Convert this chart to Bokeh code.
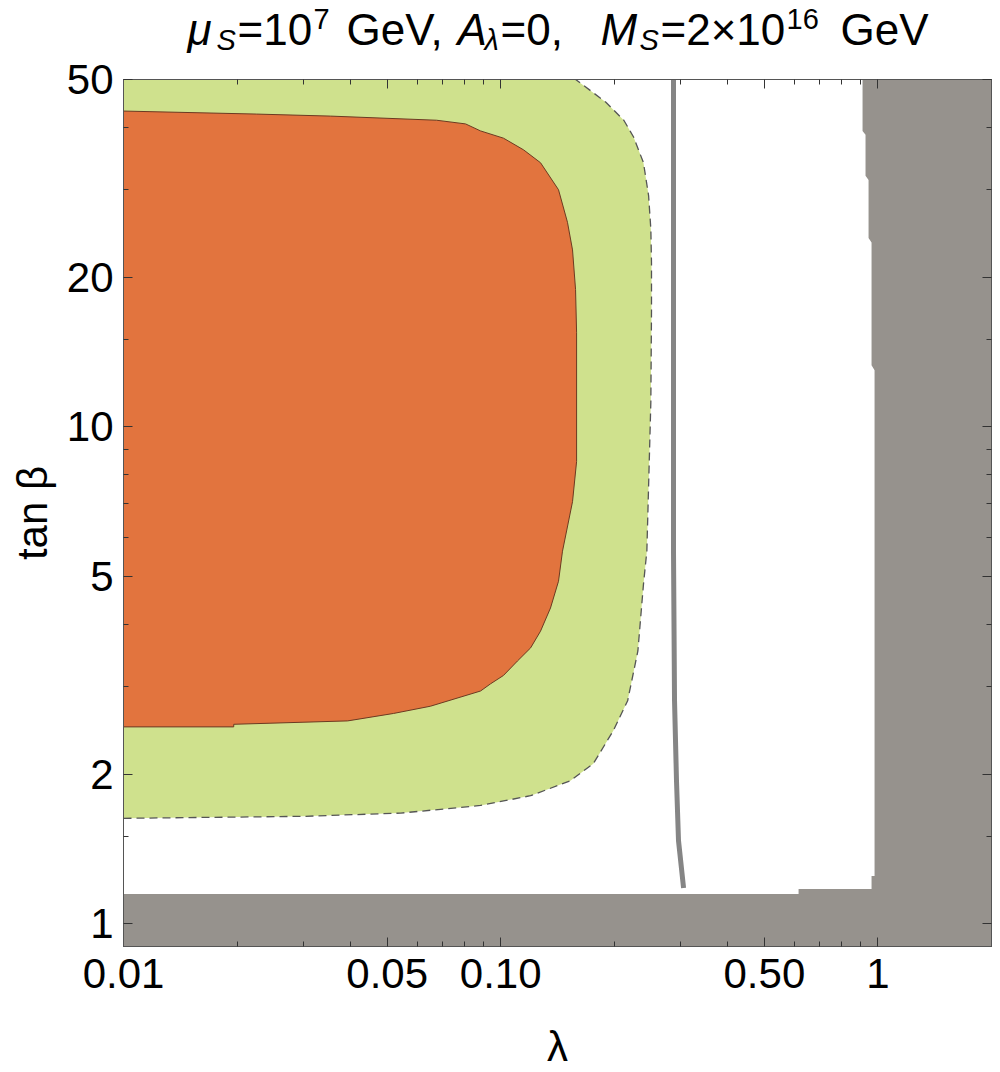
from bokeh.plotting import figure
from bokeh.layouts import column
from bokeh.models import (LogAxis, FixedTicker, CustomJSTickFormatter, Range1d,
                          ColumnDataSource)
from bokeh.embed import file_html
from bokeh.resources import INLINE

# ---------------- data ----------------
x_range_vals = (0.01, 2.0)
y_range_vals = (0.9, 50.0)

x_major = [0.01, 0.05, 0.1, 0.5, 1.0]
x_labels = ["0.01", "0.05", "0.10", "0.50", "1"]
x_minor = [0.02, 0.03, 0.04, 0.06, 0.07, 0.08, 0.09,
           0.2, 0.3, 0.4, 0.6, 0.7, 0.8, 0.9, 2.0]

y_major = [1, 2, 5, 10, 20, 50]
y_labels = ["1", "2", "5", "10", "20", "50"]
y_minor = [1.5, 3, 4, 6, 7, 8, 9, 15, 30, 40]

# green (dashed) allowed region boundary
green_lam = [0.010, 0.030, 0.0543, 0.0884, 0.120, 0.153, 0.176, 0.199, 0.217,
             0.231, 0.239, 0.244, 0.250, 0.251, 0.251, 0.250, 0.2466, 0.239,
             0.225, 0.212, 0.190, 0.158]
green_tanb = [1.63, 1.645, 1.67, 1.73, 1.81, 1.94, 2.10, 2.45, 2.81,
              3.54, 4.82, 5.62, 11.2, 17.0, 21.4, 25.0, 29.2, 34.0,
              38.3, 41.4, 45.0, 50.0]

# orange region boundary
orange_lam = [0.010, 0.0225, 0.0354, 0.0676, 0.0807, 0.0884, 0.1017, 0.1149,
              0.1275, 0.1423, 0.1503, 0.1550, 0.1579, 0.1589, 0.1589, 0.1550,
              0.1458, 0.1423, 0.1355, 0.1275, 0.1200, 0.1108, 0.1017, 0.0940,
              0.0884, 0.0651, 0.0520, 0.0393, 0.0196, 0.0196, 0.010]
orange_tanb = [43.2, 42.6, 42.2, 41.4, 40.7, 39.4, 38.1, 36.1,
               34.0, 30.0, 25.8, 22.7, 18.9, 15.5, 8.51, 7.07,
               5.62, 4.89, 4.32, 3.88, 3.59, 3.38, 3.16, 3.04,
               2.94, 2.74, 2.65, 2.56, 2.52, 2.49, 2.49]

# grey contour line
curve_lam = [0.2871, 0.2871, 0.2889, 0.2924, 0.2960, 0.3053]
curve_tanb = [50.0, 5.62, 2.81, 1.94, 1.47, 1.18]

# grey excluded region (right band + bottom band)
excl_lam = [0.9103, 0.9103, 0.927, 0.927, 0.9443, 0.9443, 0.9617, 0.9617,
            0.9795, 0.9795, 0.9617, 0.9617, 0.616, 0.616, 0.010, 0.010,
            2.0, 2.0]
excl_tanb = [50.0, 39.4, 38.7, 32.0, 31.4, 24.0, 23.5, 13.3,
             13.0, 1.248, 1.248, 1.175, 1.175, 1.148, 1.148, 0.9,
             0.9, 50.0]

# title pieces
title_pieces = ["μ", "S", "=10", "7", "GeV,", "A", "λ", "=0,",
                "M", "S", "=2×10", "16", "GeV"]
x_title = "λ"
y_title = "tan β"

# ---------------- styles ----------------
FONT = "Liberation Sans"
ORANGE = "#e2743e"
GREEN = "#cfe18d"
GREY_FILL = "#96928d"
GREY_LINE = "#858585"
FRAME = "#555555"

LEFT, RIGHT = 123, 9
TITLE_H = 56
FRAME_TOP = 79
FRAME_W, FRAME_H = 868, 867
BOTTOM_B = 64
FOOT_H = 60
MID = 0.33  # baseline sits about this many ems below the text middle


def strip(height):
    # a text-only strip whose frame lines up with the main frame;
    # its coordinates are page pixels (y measured downwards)
    s = figure(title=None, frame_width=FRAME_W, frame_height=height,
               x_range=Range1d(LEFT, LEFT + FRAME_W),
               y_range=Range1d(height, 0),
               output_backend="svg", toolbar_location=None,
               x_axis_location=None, y_axis_location=None,
               min_border_left=LEFT, min_border_right=RIGHT,
               min_border_top=0, min_border_bottom=0)
    s.grid.visible = False
    s.outline_line_color = None
    return s


# ---------------- title strip ----------------
pt = strip(TITLE_H)
BIG, SMALL = 44, 29
piece_x = [187, 216, 237, 313, 346, 457, 484, 500, 600, 639, 660, 786, 840]
piece_base = [44, 49, 44, 28, 44, 44, 49, 44, 44, 49, 44, 28, 44]
piece_big = [True, False, True, False, True, True, False, True, True, False,
             True, False, True]
piece_italic = [True, True, False, False, False, True, True, False, True,
                True, False, False, False]
for sel_big in (True, False):
    for sel_it in (True, False):
        idx = [i for i in range(len(title_pieces))
               if piece_big[i] == sel_big and piece_italic[i] == sel_it]
        if not idx:
            continue
        size = BIG if sel_big else SMALL
        src = ColumnDataSource(dict(x=[piece_x[i] for i in idx],
                                    y=[piece_base[i] - MID * size for i in idx],
                                    t=[title_pieces[i] for i in idx]))
        pt.text(x="x", y="y", text="t", source=src,
                text_font={"value": FONT},
                text_font_size={"value": f"{size}px"},
                text_font_style="italic" if sel_it else "normal",
                text_color="black", text_align="left",
                text_baseline="middle")

# ---------------- main plot ----------------
p = figure(title=None, x_axis_type="log", y_axis_type="log",
           x_range=x_range_vals, y_range=y_range_vals,
           frame_width=FRAME_W, frame_height=FRAME_H,
           min_border_left=LEFT, min_border_top=FRAME_TOP - TITLE_H,
           min_border_right=RIGHT, min_border_bottom=BOTTOM_B,
           output_backend="svg", toolbar_location=None,
           background_fill_color="white", border_fill_color="white")
p.grid.visible = False
p.outline_line_color = FRAME
p.outline_line_width = 1

p.patch(green_lam + [0.010], green_tanb + [50.0],
        fill_color=GREEN, line_color=None)
p.patch(orange_lam, orange_tanb, fill_color=ORANGE, line_color=None)
p.line(orange_lam, orange_tanb, line_color="#6b3a22", line_width=1)
p.line(green_lam, green_tanb, line_color="#555555", line_width=1.3,
       line_dash="8 5")
p.line(curve_lam, curve_tanb, line_color=GREY_LINE, line_width=5)
p.patch(excl_lam, excl_tanb, fill_color=GREY_FILL, line_color=None)


def lab_formatter(vals, labs):
    return CustomJSTickFormatter(args=dict(vals=vals, labs=labs), code="""
        for (let i = 0; i < vals.length; i++) {
            if (Math.abs(Math.log10(tick) - Math.log10(vals[i])) < 1e-6) return labs[i];
        }
        return "";
    """)


def style_axis(ax, major, minor, show_labels):
    ax.ticker = FixedTicker(ticks=major, minor_ticks=minor)
    ax.major_tick_in = 9
    ax.major_tick_out = 0
    ax.minor_tick_in = 5
    ax.minor_tick_out = 0
    ax.major_tick_line_color = "#333333"
    ax.minor_tick_line_color = "#333333"
    ax.axis_line_color = FRAME
    if show_labels:
        ax.major_label_text_font = FONT
        ax.major_label_text_font_size = "42px"
        ax.major_label_text_color = "black"
        ax.major_label_standoff = 12
        ax.axis_label_text_font = FONT
        ax.axis_label_text_font_size = "42px"
        ax.axis_label_text_font_style = "normal"
        ax.axis_label_text_color = "black"
    else:
        ax.formatter = CustomJSTickFormatter(code="return '';")
        ax.major_label_text_font_size = "0px"
        ax.major_label_standoff = 0


xb = p.xaxis[0]
style_axis(xb, x_major, x_minor, True)
xb.formatter = lab_formatter(x_major, x_labels)

yl = p.yaxis[0]
style_axis(yl, y_major, y_minor, True)
yl.formatter = lab_formatter(y_major, y_labels)
yl.major_label_orientation = "horizontal"
yl.major_label_standoff = 10
yl.axis_label = y_title
yl.axis_label_standoff = 8

xt = LogAxis()
style_axis(xt, x_major, x_minor, False)
p.add_layout(xt, "above")
yr = LogAxis()
style_axis(yr, y_major, y_minor, False)
p.add_layout(yr, "right")

# ---------------- footer strip with the x-axis title ----------------
pb = strip(FOOT_H)
pb.text(x=[557], y=[50 - MID * 42], text=[x_title], text_font={"value": FONT},
        text_font_size={"value": "42px"}, text_color="black",
        text_align="center", text_baseline="middle")

layout = column(pt, p, pb, spacing=0)
open("out.html", "w").write(file_html(layout, INLINE))
